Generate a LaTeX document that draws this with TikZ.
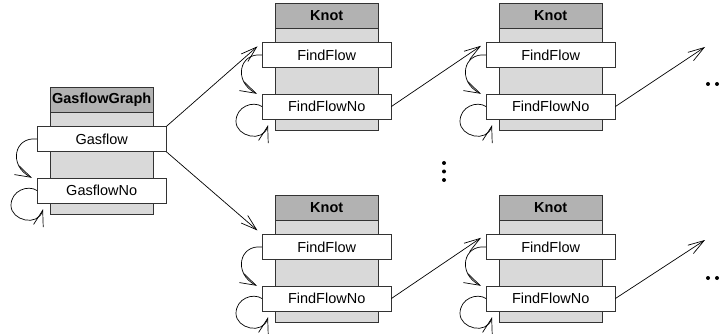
\documentclass[tikz,border=0pt]{standalone}
\usepackage{fontspec}
\setmainfont{Liberation Sans}
\usetikzlibrary{positioning,calc,arrows.meta}

\newcommand\labelsize{\fontsize{14.5}{17}\selectfont}

\tikzset{
    classbody/.style={draw=black!80, fill=gray!30, minimum width=103pt, minimum height=127pt, inner sep=0pt, anchor=north west},
    classhead/.style={draw=black!80, fill=gray!60, minimum width=103pt, minimum height=25pt, inner sep=1pt, anchor=north, font=\labelsize\bfseries},
    method/.style={draw=black!80, fill=white, minimum width=129pt, minimum height=25pt, inner sep=1pt, font=\labelsize},
    call/.style={-{Straight Barb[length=16pt,width=10pt]}, line width=0.7pt},
}

\begin{document}
\begin{tikzpicture}[x=1pt, y=-1pt]
    \useasboundingbox (0,0) rectangle (723,334);

    % Gasflow graph
    \node [classbody] (gg) at (50,87) {};
    \node [classhead] (gg-head) at (gg.north) {GasflowGraph};
    \node [method, below=14pt of gg-head] (gg-a) {Gasflow};
    \node [method, below=26pt of gg-a] (gg-b) {GasflowNo};

    % Knots
    \foreach \k/\x/\y in {k1/275/3, k2/499/3, k3/275/195, k4/499/195} {
        \node [classbody] (\k) at (\x,\y) {};
        \node [classhead] (\k-head) at (\k.north) {Knot};
        \node [method, below=14pt of \k-head] (\k-a) {FindFlow};
        \node [method, below=26pt of \k-a] (\k-b) {FindFlowNo};
    }

    % Recursive calls
    \foreach \o in {gg,k1,k2,k3,k4} {
        \draw [call] (\o-a.west) .. controls +(-23,-3) and +(-24,-12) .. ([xshift=-5pt]\o-b.north west);
        \draw [call] (\o-b.west) .. controls +(-9,-6) and +(0,-15) .. +(-26,15)
            .. controls +(0,15) and +(-5,18) .. ([shift={(6,6)}]\o-b.south west);
    }

    % Calls between the objects
    \draw [call, shorten >=6pt] (gg-a.north east) -- (k1-a.north west);
    \draw [call, shorten >=6pt] (gg-a.south east) -- (k3-a.north west);
    \draw [call, shorten >=6pt] (k1-b.east) -- (k2-a.north west);
    \draw [call, shorten >=6pt] (k3-b.east) -- (k4-a.north west);
    \coordinate (next1) at (705,47);
    \coordinate (next2) at (705,240);
    \draw [call] (k2-b.east) -- (next1);
    \draw [call] (k4-b.east) -- (next2);

    % Dots
    \foreach \y in {163,171.5,180} \fill (444,\y) circle (2);
    \foreach \y in {84,278} \foreach \x in {708,717} \fill (\x,\y) circle (2);
\end{tikzpicture}
\end{document}
